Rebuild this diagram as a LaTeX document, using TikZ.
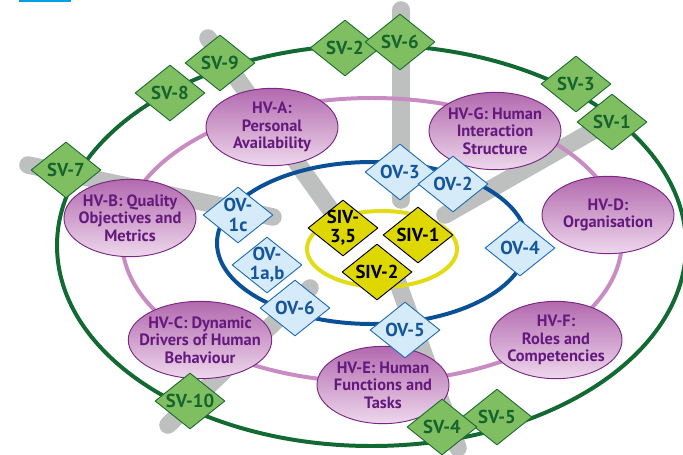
\documentclass[tikz,border=0pt]{standalone}
\usepackage{fontspec}
\setmainfont{PT Sans}
\usepackage{tikz}
\usetikzlibrary{shapes.geometric}
\definecolor{svfill}{RGB}{128,190,98}
\definecolor{svline}{RGB}{30,110,50}
\definecolor{svtext}{RGB}{22,100,45}
\definecolor{ovfill}{RGB}{214,235,250}
\definecolor{ovline}{RGB}{35,110,180}
\definecolor{ovtext}{RGB}{20,85,155}
\definecolor{sivfill}{RGB}{222,216,0}
\definecolor{hvtop}{RGB}{178,105,175}
\definecolor{hvbottom}{RGB}{238,215,236}
\definecolor{hvline}{RGB}{120,40,130}
\definecolor{hvtext}{RGB}{100,25,125}
\definecolor{greenring}{RGB}{18,105,50}
\definecolor{pinkring}{RGB}{200,140,195}
\definecolor{bluering}{RGB}{10,80,150}
\definecolor{yellowring}{RGB}{225,220,20}
\definecolor{spokegrey}{RGB}{190,192,192}
\definecolor{topbar}{RGB}{0,160,230}

\begin{document}
\begin{tikzpicture}[line cap=round,line join=round,x=0.03cm,y=-0.03cm,
  spoke/.style={line width=15pt,color=spokegrey},
  ring/.style={line width=3.4pt},
  dia/.style={diamond,draw,line width=0.8pt,minimum width=2.1cm,minimum height=1.68cm,inner sep=-0.3cm,align=center,font=\fontsize{16}{16.5}\selectfont\bfseries},
  svbox/.style={dia,fill=svfill,draw=svline,text=svtext},
  ovbox/.style={dia,fill=ovfill,draw=ovline,text=ovtext},
  sivbox/.style={dia,fill=sivfill,draw=black,text=black},
  hvbox/.style={ellipse,draw=hvline,line width=0.8pt,top color=hvtop,bottom color=hvbottom,minimum width=3.96cm,minimum height=2.32cm,inner sep=-0.3cm,align=center,text=hvtext,font=\fontsize{14}{15}\selectfont\bfseries}]
\useasboundingbox (0,0) rectangle (683,454);
\fill[topbar] (19,0) rectangle (71,2);

% grey spokes
\coordinate (s9out) at (208,38);   \coordinate (s9in) at (345,230);
\coordinate (s7out) at (28,165);   \coordinate (s7in) at (273,217);
\coordinate (s6out) at (401,10);   \coordinate (s6in) at (401,200);
\coordinate (s1out) at (612,120);  \coordinate (s1in) at (445,215);
\coordinate (s10out) at (168,425); \coordinate (s10in) at (310,288);
\coordinate (s4out) at (458,448);  \coordinate (s4in) at (395,275);
\draw[spoke] (s9out) -- (s9in);
\draw[spoke] (s7out) -- (s7in);
\draw[spoke] (s6out) -- (s6in);
\draw[spoke] (s1out) -- (s1in);
\draw[spoke] (s10out) -- (s10in);
\draw[spoke] (s4out) -- (s4in);

% rings
\draw[ring,greenring] (371.5,245.5) ellipse (314.5 and 200.5);
\draw[ring,pinkring] (372,240) ellipse (250 and 142);
\draw[ring,bluering] (372,243) ellipse (155 and 81);
\draw[ring,yellowring] (382,249) ellipse (75 and 38);

% human views
\node[hvbox] (hva) at (272,127) {HV-A:\\Personal\\Availability};
\node[hvbox] (hvb) at (130,218) {HV-B: Quality\\Objectives and\\Metrics};
\node[hvbox] (hvc) at (200,340) {HV-C: Dynamic\\Drivers of Human\\Behaviour};
\node[hvbox] (hvd) at (608,215) {HV-D:\\Organisation};
\node[hvbox] (hve) at (383,385) {HV-E: Human\\Functions and\\Tasks};
\node[hvbox] (hvf) at (556,340) {HV-F:\\Roles and\\Competencies};
\node[hvbox] (hvg) at (495,131) {HV-G: Human\\Interaction\\Structure};

% operational views
\node[ovbox] (ov1c) at (238,215) {OV-\\1c};
\node[ovbox] (ov1ab) at (267,265) {OV-\\1a,b};
\node[ovbox] (ov3) at (400,172) {OV-3};
\node[ovbox] (ov2) at (453,184) {OV-2};
\node[ovbox] (ov4) at (520,248) {OV-4};
\node[ovbox] (ov5) at (405,330) {OV-5};
\node[ovbox] (ov6) at (295,308) {OV-6};

% SIV
\node[sivbox] (siv35) at (343,228) {SIV-\\3,5};
\node[sivbox] (siv1) at (418,235) {SIV-1};
\node[sivbox] (siv2) at (377,272) {SIV-2};

% system views
\node[svbox] (sv7) at (66,170) {SV-7};
\node[svbox] (sv8) at (170,93) {SV-8};
\node[svbox] (sv9) at (220,63) {SV-9};
\node[svbox] (sv2) at (345,48) {SV-2};
\node[svbox] (sv6) at (400,42) {SV-6};
\node[svbox] (sv3) at (576,84) {SV-3};
\node[svbox] (sv1) at (612,122) {SV-1};
\node[svbox] (sv10) at (190,401) {SV-10};
\node[svbox] (sv5) at (497,417) {SV-5};
\node[svbox] (sv4) at (442,427) {SV-4};
\end{tikzpicture}
\end{document}
